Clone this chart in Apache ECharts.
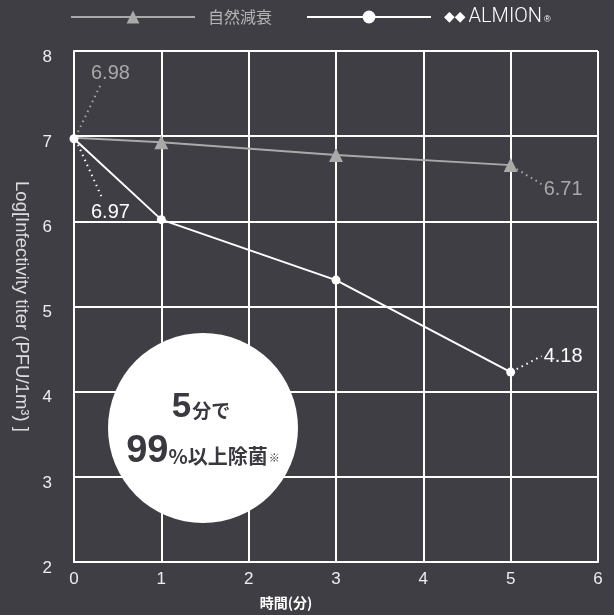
<!DOCTYPE html>
<html><head><meta charset="utf-8">
<script src="https://cdn.jsdelivr.net/npm/echarts@6/dist/echarts.min.js"></script>
<style>html,body{margin:0;padding:0;background:#3f3e45}#c{width:614px;height:615px}</style>
</head><body><div id="c"></div>
<script>
// ---- data ----
const xValues = [0, 1, 3, 5];
const naturalName = '自然減衰';
const almionName = 'ALMION';
const naturalValues = [6.98, 6.93, 6.78, 6.66];
const almionValues = [6.97, 6.02, 5.31, 4.23];
const naturalLabels = ['6.98', null, null, '6.71'];
const almionLabels = ['6.97', null, null, '4.18'];
const xTicks = [0, 1, 2, 3, 4, 5, 6];
const yTicks = [2, 3, 4, 5, 6, 7, 8];
const xAxisTitle = '時間(分)';
const yAxisTitle = 'Log[Infectivity titer (PFU/1m³) ]';
const badgeLine1 = ['5', '分で'];
const badgeLine2 = ['99', '%以上除菌', '※'];

const BG = '#3f3e45', GRAY = '#a9aaa8', WHITE = '#ffffff';
const NUM_FONT = '"Liberation Sans", Arial, sans-serif';
const JP_FONT = '"Noto Sans CJK JP", sans-serif';

const chart = echarts.init(document.getElementById('c'), null, {renderer: 'canvas'});

const natData = xValues.map((x, i) => i === 0 ? {value: [x, naturalValues[i]], symbol: 'none'} : [x, naturalValues[i]]);
const almData = xValues.map((x, i) => [x, almionValues[i]]);

chart.setOption({
  backgroundColor: BG,
  animation: false,
  grid: {left: 74, right: 16, top: 51, bottom: 53},
  legend: {
    top: 7, left: 70, padding: 0,
    itemWidth: 124, itemHeight: 16, itemGap: 34,
    data: [
      {name: naturalName, textStyle: {color: '#b4b4b4', fontSize: 16, fontFamily: JP_FONT}},
      {name: almionName}
    ],
    formatter: n => n === almionName ? '{l|◆◆}{a|ALMION}{r|®}' : n,
    textStyle: {
      color: '#ffffff', fontFamily: JP_FONT, fontSize: 16, padding: [0, 0, 0, 8],
      rich: {
        l: {color: '#ffffff', fontSize: 14, fontFamily: 'DejaVu Sans', padding: [0, 3, 0, 0]},
        a: {color: '#ffffff', fontSize: 20, fontFamily: 'Roboto, sans-serif', fontWeight: 300},
        r: {color: '#ffffff', fontSize: 9, fontFamily: NUM_FONT, padding: [6, 0, 0, 2]}
      }
    }
  },
  xAxis: {
    type: 'value', min: xTicks[0], max: xTicks[xTicks.length - 1], interval: 1,
    axisLine: {show: true, lineStyle: {color: WHITE, width: 2}},
    axisTick: {show: false},
    axisLabel: {color: '#eeeeee', fontSize: 17, fontFamily: NUM_FONT, margin: 9,
      formatter: v => xTicks.includes(v) ? String(v) : ''},
    splitLine: {show: true, lineStyle: {color: WHITE, width: 2}}
  },
  yAxis: {
    type: 'value', min: yTicks[0], max: yTicks[yTicks.length - 1], interval: 1,
    name: yAxisTitle, nameLocation: 'middle', nameRotate: -90, nameGap: 43,
    nameTextStyle: {color: '#dddddd', fontSize: 18.5, fontFamily: NUM_FONT},
    axisLine: {show: true, lineStyle: {color: WHITE, width: 2}},
    axisTick: {show: false},
    axisLabel: {color: '#eeeeee', fontSize: 17, fontFamily: NUM_FONT, margin: 22,
      verticalAlign: 'top', lineHeight: 12,
      formatter: v => yTicks.includes(v) ? String(v) : ''},
    splitLine: {show: true, lineStyle: {color: WHITE, width: 2}}
  },
  series: [
    {
      name: naturalName, type: 'line', data: natData,
      symbol: 'triangle', symbolSize: 14, z: 3,
      color: GRAY, itemStyle: {color: GRAY},
      lineStyle: {color: GRAY, width: 2}
    },
    {
      name: almionName, type: 'line', data: almData,
      symbol: 'circle', symbolSize: 9, z: 4,
      color: WHITE, itemStyle: {color: WHITE},
      lineStyle: {color: WHITE, width: 2}
    }
  ]
});

// annotation layout (pixel offsets from the data point)
const annoLayout = {
  nat: [
    {line: [[4, -6], [27, -54]], text: [17, -64]}, null, null,
    {line: [[6, 4], [31, 19]], text: [33, 24]}
  ],
  alm: [
    {line: [[4, 6], [28, 59]], text: [17, 74]}, null, null,
    {line: [[6, -3], [31, -16]], text: [33, -16]}
  ]
};

const graphics = [];
function addAnno(values, labels, layout, color) {
  xValues.forEach((x, i) => {
    if (!labels[i] || !layout[i]) return;
    const p = chart.convertToPixel({gridIndex: 0}, [x, values[i]]);
    const L = layout[i];
    graphics.push({
      type: 'line', silent: true, z: 10,
      shape: {x1: p[0] + L.line[0][0], y1: p[1] + L.line[0][1], x2: p[0] + L.line[1][0], y2: p[1] + L.line[1][1]},
      style: {stroke: color, lineWidth: 2, lineDash: [1.5, 4]}
    });
    graphics.push({
      type: 'text', silent: true, z: 10,
      x: p[0] + L.text[0], y: p[1] + L.text[1],
      style: {text: labels[i], fill: color, font: '20px ' + NUM_FONT, textAlign: 'left', textVerticalAlign: 'middle'}
    });
  });
}
addAnno(naturalValues, naturalLabels, annoLayout.nat, GRAY);
addAnno(almionValues, almionLabels, annoLayout.alm, WHITE);

// badge
graphics.push({
  type: 'circle', z: 20, silent: true,
  shape: {cx: 203, cy: 428, r: 95},
  style: {fill: '#ffffff'}
});
graphics.push({
  type: 'text', z: 21, silent: true, x: 201, y: 407,
  style: {
    text: '{a|' + badgeLine1[0] + '}{b|' + badgeLine1[1] + '}',
    textAlign: 'center', textVerticalAlign: 'middle',
    rich: {
      a: {fill: '#3a3940', fontSize: 35, fontWeight: 'bold', fontFamily: NUM_FONT},
      b: {fill: '#3a3940', fontSize: 19, fontWeight: 'bold', fontFamily: JP_FONT, padding: [8, 0, 0, 1]}
    }
  }
});
graphics.push({
  type: 'text', z: 21, silent: true, x: 203, y: 452,
  style: {
    text: '{a|' + badgeLine2[0] + '}{b|' + badgeLine2[1] + '}{c|' + badgeLine2[2] + '}',
    textAlign: 'center', textVerticalAlign: 'middle',
    rich: {
      a: {fill: '#3a3940', fontSize: 38, fontWeight: 'bold', fontFamily: NUM_FONT},
      b: {fill: '#3a3940', fontSize: 20, fontWeight: 'bold', fontFamily: JP_FONT, padding: [8, 0, 0, 0]},
      c: {fill: '#3a3940', fontSize: 11, fontFamily: JP_FONT, padding: [12, 0, 0, 1]}
    }
  }
});
// x axis title
graphics.push({
  type: 'text', silent: true, x: 286, y: 603,
  style: {text: xAxisTitle, fill: '#ffffff', font: 'bold 14px ' + JP_FONT, textAlign: 'center', textVerticalAlign: 'middle'}
});

chart.setOption({graphic: graphics});
</script>
</body></html>
